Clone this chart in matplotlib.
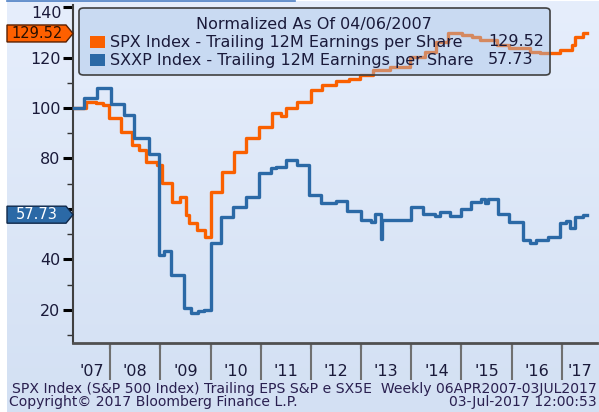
import matplotlib
matplotlib.use("Agg")
import matplotlib.pyplot as plt
import matplotlib.transforms as mtrans
from matplotlib.patches import FancyBboxPatch, Polygon, Rectangle
from matplotlib.colors import LinearSegmentedColormap
from matplotlib.lines import Line2D
import numpy as np
import pandas as pd

# SPX trailing 12M EPS, normalized (step points)
spx_dates = ["2007-04-06", "2007-07-07", "2007-09-18", "2007-11-10", "2007-12-24",
             "2008-03-17", "2008-06-09", "2008-07-30", "2008-09-15", "2008-12-08",
             "2009-01-15", "2009-03-29", "2009-05-26", "2009-07-05", "2009-07-31",
             "2009-09-27", "2009-11-24", "2010-01-04", "2010-03-27", "2010-06-22",
             "2010-09-18", "2010-12-20", "2011-03-25", "2011-05-30", "2011-07-05",
             "2011-09-23", "2012-01-02", "2012-03-25", "2012-07-01", "2012-10-08",
             "2012-12-20", "2013-03-25", "2013-07-27", "2013-12-20", "2014-04-09",
             "2014-06-28", "2014-09-23", "2015-01-04", "2015-03-18", "2015-05-15",
             "2015-09-13", "2015-12-16", "2016-05-10", "2016-07-22", "2016-12-16",
             "2017-03-14", "2017-04-05", "2017-06-02", "2017-07-03"]
spx_vals = [100.0, 102.5, 101.8, 101.2, 95.9,
            90.6, 85.3, 83.4, 78.7, 77.4,
            70.3, 62.9, 64.9, 57.6, 54.4,
            51.7, 49.0, 66.9, 74.8, 82.7,
            88.0, 92.6, 97.9, 96.8, 99.9,
            102.5, 107.1, 109.1, 110.8, 111.4,
            113.1, 115.0, 116.4, 120.3, 122.3,
            126.0, 129.8, 128.9, 128.3, 127.0,
            125.0, 123.6, 122.3, 121.7, 123.0,
            125.0, 128.3, 129.52, 129.52]

# SXXP trailing 12M EPS, normalized
sxxp_dates = ["2007-04-06", "2007-06-24", "2007-09-27", "2008-01-04", "2008-04-11",
              "2008-06-24", "2008-10-12", "2008-12-24", "2009-01-29", "2009-03-18",
              "2009-06-24", "2009-08-11", "2009-09-30", "2009-11-17", "2010-01-04",
              "2010-03-18", "2010-06-13", "2010-09-16", "2010-12-20", "2011-03-18",
              "2011-04-23", "2011-07-05", "2011-09-23", "2011-12-20", "2012-03-17",
              "2012-07-01", "2012-09-23", "2013-01-01", "2013-03-14", "2013-04-08",
              "2013-05-26", "2013-06-02", "2013-12-28", "2014-03-25", "2014-06-21",
              "2014-07-27", "2014-10-08", "2015-01-01", "2015-03-14", "2015-05-26",
              "2015-06-21", "2015-07-10", "2015-09-20", "2015-12-16", "2016-03-22",
              "2016-05-11", "2016-06-28", "2016-09-20", "2016-12-16", "2017-02-02",
              "2017-02-28", "2017-04-05", "2017-06-02", "2017-07-03"]
sxxp_vals = [100.0, 103.8, 107.8, 101.6, 97.2,
             88.0, 81.8, 41.8, 43.5, 33.9,
             20.7, 18.9, 19.5, 20.0, 46.4,
             57.0, 60.9, 64.9, 74.1, 76.1,
             76.8, 79.4, 77.4, 65.5, 62.3,
             63.3, 59.3, 55.6, 54.7, 58.0,
             48.0, 55.6, 60.7, 58.0, 57.2,
             58.9, 57.2, 59.9, 62.9, 63.8,
             62.5, 63.8, 58.0, 55.0, 47.7,
             46.4, 47.7, 49.0, 54.3, 55.4,
             52.4, 57.0, 57.6, 57.73]

years = list(range(2007, 2018))
year_labels = ["'%02d" % (y % 100) for y in years]
ytick_vals = list(range(20, 141, 20))
legend_title = "Normalized As Of 04/06/2007"
legend_names = ["SPX Index - Trailing 12M Earnings per Share",
                "SXXP Index - Trailing 12M Earnings per Share"]
last_vals = [129.52, 57.73]

ORANGE = "#fa6000"
BLUE = "#2b69a6"
TXT = "#1a1a3a"
W, H = 599, 412


def fx(x):
    return x / W


def fy(y):
    return 1 - y / H


fig = plt.figure(figsize=(W / 100, H / 100), dpi=100)
fig.patch.set_facecolor("white")

# background gradient
bg = fig.add_axes([fx(7), 0, 1 - fx(7), 1 - 1 / H], zorder=-1)
cmap = LinearSegmentedColormap.from_list("bb", ["#d3e0f3", "#e6eefc"])
bg.imshow(np.linspace(0, 1, 256).reshape(-1, 1), cmap=cmap, aspect="auto",
          extent=(0, 1, 0, 1), origin="lower")
bg.axis("off")
fig.add_artist(Line2D([fx(7), fx(295)], [fy(0.6), fy(0.6)], color="#4d7fc4", lw=1.2))

ax = fig.add_axes([fx(73), fy(343), fx(597) - fx(73), (343 - 5) / H])
ax.set_facecolor("none")

spx_t = pd.to_datetime(spx_dates)
sxxp_t = pd.to_datetime(sxxp_dates)
ax.step(spx_t, spx_vals, where="post", color=ORANGE, lw=2.4, zorder=3)
ax.step(sxxp_t, sxxp_vals, where="post", color=BLUE, lw=2.4, zorder=4)

xmin, xmax = pd.Timestamp("2007-04-06"), pd.Timestamp("2017-09-13")
ax.set_xlim(xmin, xmax)
ax.set_ylim(6.9, 140.8)

for s in ["top", "right"]:
    ax.spines[s].set_visible(False)
ax.spines["left"].set_color("#404040")
ax.spines["left"].set_linewidth(1.5)
ax.spines["bottom"].set_color("#505050")
ax.spines["bottom"].set_linewidth(2)

# 60 sits under the last-value tag and 140 is nudged down, as in the original
ax.set_yticks(ytick_vals)
ax.set_yticklabels(["" if v in (60, 140) else str(v) for v in ytick_vals])
ax.set_yticks(range(10, 141, 20), minor=True)
ax.tick_params(axis="y", which="major", direction="out", length=7, width=2.2,
               color="black", labelsize=11.5, pad=2, labelcolor=TXT)
ax.tick_params(axis="y", which="minor", direction="out", length=4, width=1,
               color="#333333")
ax.text(fx(62), fy(14), "140", transform=fig.transFigure, ha="right", va="center",
        fontsize=11.5, color=TXT, clip_on=False)

jan1 = [pd.Timestamp("%d-01-01" % y) for y in years[1:]]
ax.set_xticks(jan1)
ax.set_xticklabels([])
ax.tick_params(axis="x", which="major", direction="out", length=4, width=1.5,
               color="black")
tr = mtrans.blended_transform_factory(ax.transData, ax.transAxes)
ax.vlines(jan1, -37 / 338, 0, transform=tr, color="#707070", lw=1.5, clip_on=False)

for y, lab in zip(years, year_labels):
    a = max(pd.Timestamp("%d-01-01" % y), xmin)
    b = min(pd.Timestamp("%d-01-01" % (y + 1)), xmax)
    mid = a + (b - a) / 2
    ax.text(mid, -29 / 338, lab, transform=tr, ha="center", va="center",
            fontsize=11.5, color=TXT, clip_on=False)

# legend box
tf = fig.transFigure
box = dict(boxstyle="round,pad=0,rounding_size=0.008", transform=tf, clip_on=False)
ax.add_artist(FancyBboxPatch((fx(79), fy(75)), fx(550) - fx(79), fy(8) - fy(75),
                             facecolor="#a4c2e7", alpha=0.42, edgecolor="none",
                             zorder=10, **box))
ax.add_artist(FancyBboxPatch((fx(79), fy(75)), fx(550) - fx(79), fy(8) - fy(75),
                             facecolor="none", edgecolor="#404040", lw=1.2,
                             zorder=11, **box))
ax.text(fx(314), fy(25), legend_title, transform=tf, ha="center", va="center",
        fontsize=11.5, color=TXT, zorder=12)
for i, (name, val, col) in enumerate(zip(legend_names, last_vals, [ORANGE, BLUE])):
    yc = 42 + i * 18
    ax.add_artist(Rectangle((fx(90), fy(yc + 6)), fx(15), 12 / H, transform=tf,
                            facecolor=col, edgecolor="none", zorder=12, clip_on=False))
    ax.text(fx(110), fy(yc), name, transform=tf, ha="left", va="center",
            fontsize=11.5, color=TXT, zorder=12)
    ax.text(fx(488), fy(yc), "%.2f" % val, transform=tf, ha="left", va="center",
            fontsize=11.5, color=TXT, zorder=12)

# last-value tags on the y axis
trl = mtrans.blended_transform_factory(fig.transFigure, ax.transData)
hh = 8.5 / 2.525
for val, face, edge, tcol in zip(last_vals, ["#ff6000", "#2b69a6"],
                                 ["#5a2000", "#10284a"], ["#2a1000", "white"]):
    pts = [(fx(7), val - hh), (fx(66), val - hh), (fx(73), val),
           (fx(66), val + hh), (fx(7), val + hh)]
    ax.add_artist(Polygon(pts, closed=True, transform=trl, facecolor=face,
                          edgecolor=edge, lw=1, zorder=12, clip_on=False))
    ax.text(fx(37), val, "%.2f" % val, transform=trl, ha="center", va="center",
            fontsize=10.5, color=tcol, zorder=13, clip_on=False)

# footer
fcol = "#2a2050"
fig.text(fx(12), fy(389), "SPX Index (S&P 500 Index) Trailing EPS S&P e SX5E  Weekly 06APR2007-03JUL2017",
         ha="left", va="center", fontsize=10.1, color=fcol)
fig.text(fx(9), fy(402), "Copyright\u00a9 2017 Bloomberg Finance L.P.",
         ha="left", va="center", fontsize=10.1, color=fcol)
fig.text(fx(597), fy(402), "03-Jul-2017 12:00:53",
         ha="right", va="center", fontsize=10.1, color=fcol)

fig.savefig("out.png", dpi=100, facecolor=fig.get_facecolor())
